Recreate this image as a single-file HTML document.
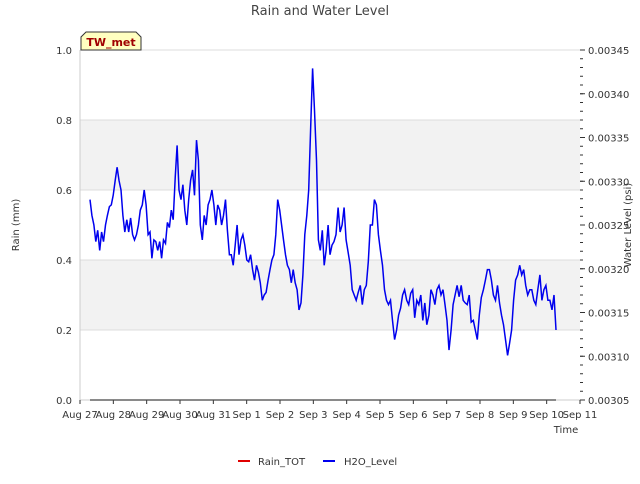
<!DOCTYPE html>
<html><head><meta charset="utf-8"><style>
body{margin:0;background:#fff;font-family:"DejaVu Sans","Liberation Sans",sans-serif;}
svg text{font-family:"DejaVu Sans","Liberation Sans",sans-serif;}
</style></head><body>
<svg id="chart" width="640" height="480" xmlns="http://www.w3.org/2000/svg"></svg>
<script>
const xLabels=["Aug 27","Aug 28","Aug 29","Aug 30","Aug 31","Sep 1","Sep 2","Sep 3","Sep 4","Sep 5","Sep 6","Sep 7","Sep 8","Sep 9","Sep 10","Sep 11"];
const leftTicks=[0.0,0.2,0.4,0.6,0.8,1.0];
const rightTicks=[0.00305,0.00310,0.00315,0.00320,0.00325,0.00330,0.00335,0.00340,0.00345];
const tStartA=0.3, tEndA=7.5, tStartB=7.56, tEndB=14.28; // days since Aug 27
// water level in units of 1e-5 psi
const h2oA=[327.9,326.1,325,323.1,324.4,322.1,324.2,323.1,325,326.1,327.1,327.3,328.4,330.1,331.6,330.1,329,326.1,324.2,325.6,324.2,325.8,323.9,323.3,323.9,325,326.7,327.3,329,327.3,323.9,324.2,321.2,323.3,323.1,322.1,323.1,321.2,323.3,322.9,325.3,324.7,326.7,325.6,330.4,334.1,329,327.9,329.6,326.7,325,327.9,330.1,331.3,328.4,334.7,332.4,325,323.3,326.1,325,327.3,327.9,329,327.3,325,327.3,326.7,325,326.1,327.9,324.4,321.6,321.6,320.4,322.7,325,321.6,323.3,323.9,322.7,321,320.8,321.6,319.9,318.7,320.4,319.6,318.4,316.4,317,317.3,318.7,319.9,321,321.6,323.9,327.9,326.7,325,323.3,321.6,320.4,319.9,318.4,319.9,318.4,317.6,315.3,316.1,319.3,323.9,326.1,329,335.9,342.9,338.1,332.4,323.3,322.1,324.4,320.4,322.1,325,321.6];
const h2oB=[322.7,323.1,323.9,327,324.2,325,327,323.3,321.9,320.4,317.6,317,316.4,317.3,318.1,315.9,317.6,318.1,320.8,325,325,327.9,327.3,323.9,322.1,320.4,317.6,316.4,315.9,316.4,314.1,311.9,313,314.7,315.5,317,317.6,316.4,315.9,317.2,317.6,314.4,316.4,315.9,317,314.1,316.1,313.6,314.7,317.6,317,315.9,317.6,318.1,317,317.6,315.9,314.1,310.7,313,315.9,317,318.1,316.8,318.1,316.4,316.1,315.9,317,313.9,314.1,313,311.9,314.7,316.7,317.6,318.7,319.9,319.9,318.7,317,316.4,318.1,316.1,314.7,313.6,311.9,310.1,311.5,313,316.4,318.7,319.3,320.4,319.3,319.9,318.1,317,317.6,317.6,316.4,315.9,317.6,319.3,316.4,317.6,318.1,316.4,316.4,315.3,317,313];
const rain=[0,0];

const NS="http://www.w3.org/2000/svg", svg=document.getElementById('chart');
const L=80,R=580,T=50,B=400;
const xs=d=>L+(d/15)*(R-L);
const yl=v=>B-v*(B-T);
const yr=v=>B-(v-0.00305)/0.0004*(B-T);
function mk(tag,attrs,parent){const e=document.createElementNS(NS,tag);for(const k in attrs)e.setAttribute(k,attrs[k]);(parent||svg).appendChild(e);return e;}
function txt(s,attrs){const e=mk('text',attrs);e.textContent=s;return e;}

let bg=mk('rect',{x:L,y:T,width:R-L,height:B-T,fill:'#fff'});


[[0.2,0.4],[0.6,0.8]].forEach(b=>{const r=mk('rect',{x:L,y:yl(b[1]),width:R-L,height:yl(b[0])-yl(b[1]),fill:'#f2f2f2'});

});
leftTicks.forEach(v=>{const g=mk('line',{x1:L,x2:R,y1:yl(v),y2:yl(v),stroke:'#dcdcdc','stroke-width':1});


const t=txt(v.toFixed(1),{x:L-8,y:yl(v)+4,'text-anchor':'end','font-size':10,fill:'#333'});

});
mk('line',{x1:L,x2:L,y1:T,y2:B,stroke:'#ccc'});
mk('line',{x1:L,x2:R,y1:B,y2:B,stroke:'#ccc'});
rightTicks.forEach(v=>{mk('line',{x1:R,x2:R+5,y1:yr(v),y2:yr(v),stroke:'#333'});
const t=txt(v.toFixed(5),{x:R+8,y:yr(v)+4,'font-size':10,fill:'#333'});

});
for(let i=0;i<40;i++){const v=0.00305+i*0.00001;mk('line',{x1:R,x2:R+3,y1:yr(v),y2:yr(v),stroke:'#333'});}
xLabels.forEach((s,i)=>{mk('line',{x1:xs(i),x2:xs(i),y1:B,y2:B+4,stroke:'#333'});
const t=txt(s,{x:xs(i),y:B+18,'text-anchor':'middle','font-size':10,fill:'#333'});

});

const rl=mk('polyline',{points:rain.map((v,i)=>xs(tStartA+i*(tEndB-tStartA))+','+yl(v)).join(' '),fill:'none',stroke:'#444','stroke-width':1.2});


function seg(arr,t0,t1){const st=(t1-t0)/(arr.length-1);return arr.map((v,i)=>xs(t0+i*st).toFixed(1)+','+yr(v*1e-5).toFixed(1));}
const pts=seg(h2oA,tStartA,tEndA).concat(seg(h2oB,tStartB,tEndB));
const wl=mk('polyline',{points:pts.join(' '),fill:'none',stroke:'#0000ee','stroke-width':1.5});



let e;
e=txt('Rain and Water Level',{x:320,y:15,'text-anchor':'middle','font-size':13,fill:'#444'});


e=txt('Rain (mm)',{x:19,y:225,'text-anchor':'middle','font-size':10,fill:'#333',transform:'rotate(-90 19 225)'});


e=txt('Water Level (psi)',{x:631,y:225,'text-anchor':'middle','font-size':10,fill:'#333',transform:'rotate(-90 631 225)'});


e=txt('Time',{x:566,y:433,'text-anchor':'middle','font-size':10,fill:'#333'});


e=mk('path',{d:'M81,50 L81,37 L86,32 L136,32 L141,37 L141,50 Z',fill:'#ffffc0',stroke:'#333'});


e=txt('TW_met',{x:111,y:46,'text-anchor':'middle','font-size':11,'font-weight':'bold',fill:'#a00000'});


e=mk('line',{x1:238,x2:250,y1:461,y2:461,stroke:'#e00000','stroke-width':2});


e=txt('Rain_TOT',{x:258,y:465,'font-size':10,fill:'#333'});


e=mk('line',{x1:323,x2:335,y1:461,y2:461,stroke:'#0000ee','stroke-width':2});


e=txt('H2O_Level',{x:344,y:465,'font-size':10,fill:'#333'});


</script>
</body></html>
